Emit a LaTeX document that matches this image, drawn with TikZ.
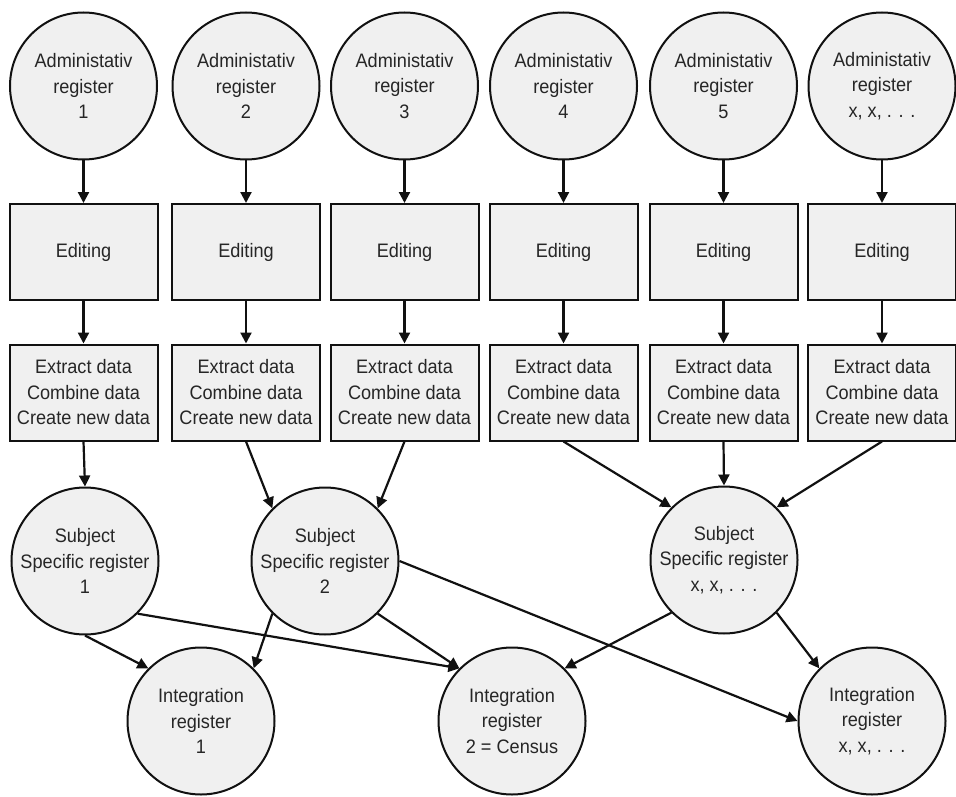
\documentclass[tikz,border=0pt]{standalone}
\usepackage{fontspec}
\setmainfont{Liberation Sans}[FakeStretch=0.93]
\usetikzlibrary{arrows.meta}
\definecolor{nodefill}{HTML}{F0F0F0}
\definecolor{inkgray}{HTML}{111111}
\definecolor{textgray}{HTML}{262626}
\begin{document}
\begin{tikzpicture}[x=1pt,y=-1pt,
  every node/.style={font=\fontsize{19.5}{25.5}\selectfont, text=textgray, align=center, inner sep=0pt},
  reg/.style={circle, draw=inkgray, line width=2pt, fill=nodefill, minimum size=147pt},
  stepbox/.style={rectangle, draw=inkgray, line width=2pt, fill=nodefill, minimum width=148pt, minimum height=96pt},
  flow/.style={-{Triangle[length=11pt,width=11pt]}, line width=2.2pt, draw=inkgray}]
\useasboundingbox (0,0) rectangle (956,797);

% source registers, editing and processing steps
\foreach \i/\cx/\lab in {1/83.5/1, 2/246/2, 3/404.5/3, 4/563.5/4, 5/723.5/5, 6/882/{x, x, . . .}} {
  \node[reg] (a\i) at (\cx,86) {Administativ\\register\\\lab};
  \node[stepbox] (e\i) at (\cx,252) {Editing};
  \node[stepbox] (x\i) at (\cx,392.5) {Extract data\\Combine data\\Create new data};
  \draw[flow] (a\i) -- (e\i);
  \draw[flow] (e\i) -- (x\i);
}

% subject specific registers
\node[reg] (s1) at (85,561) {Subject\\Specific register\\1};
\node[reg] (s2) at (325,561) {Subject\\Specific register\\2};
\node[reg] (s3) at (724,560) {Subject\\Specific register\\x, x, . . .};

% integration registers
\node[reg] (i1) at (201,721) {Integration\\register\\1};
\node[reg] (i2) at (512,721) {Integration\\register\\2 = Census};
\node[reg] (i3) at (872,721) {Integration\\register\\x, x, . . .};

% processing to subject registers
\draw[flow] (x1.south) -- (s1.north);
\draw[flow] (x2.south) -- (s2.north west);
\draw[flow] (x3.south) -- (s2.north east);
\draw[flow] (x4.south) -- (s3.north west);
\draw[flow] (x5.south) -- (s3.north);
\draw[flow] (x6.south) -- (s3.north east);

% subject registers to integration registers
\draw[flow] (s1.south) -- (i1.north west);
\draw[flow] (s1.south east) -- (i2.north west);
\draw[flow] (s2.south west) -- (i1.north east);
\draw[flow] (s2.south east) -- (i2.north west);
\draw[flow] (s2.east) -- (i3.west);
\draw[flow] (s3.south west) -- (i2.north east);
\draw[flow] (s3.south east) -- (i3.north west);
\end{tikzpicture}
\end{document}
